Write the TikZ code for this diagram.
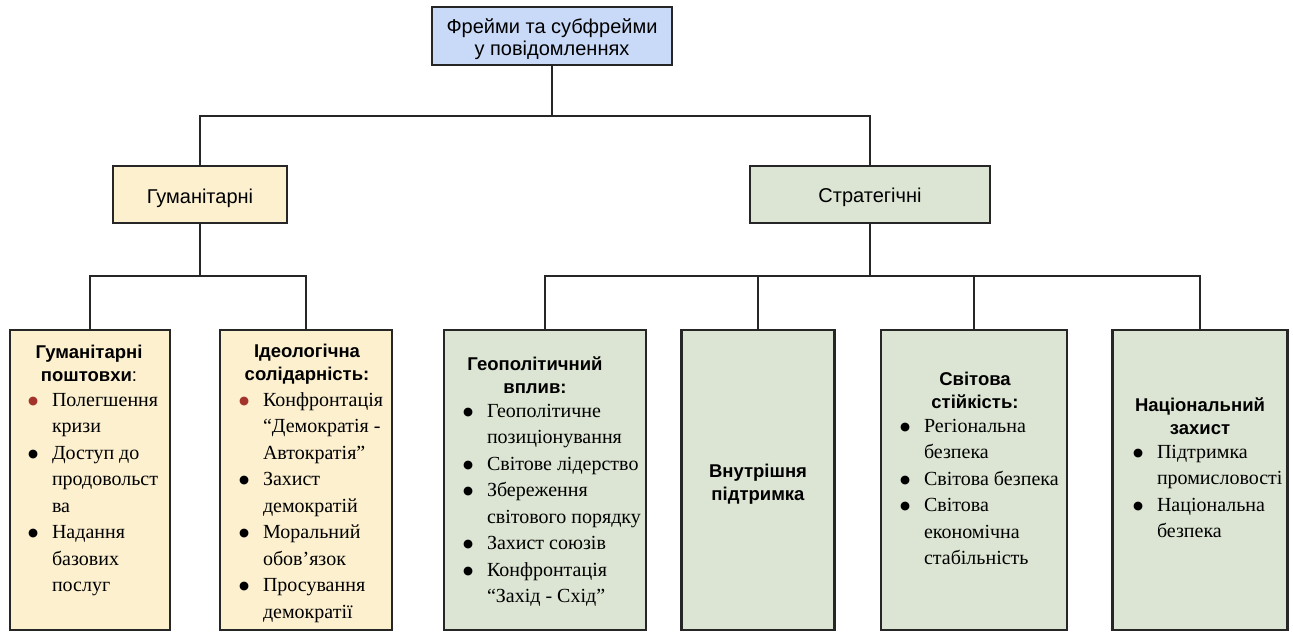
\documentclass[tikz,border=0pt]{standalone}
\usepackage{fontspec}
\setmainfont{Liberation Serif}
\setsansfont{Liberation Sans}
\newfontfamily\dejavu{DejaVu Sans}
\usepackage{array}
\definecolor{rootfill}{HTML}{C9DAF8}
\definecolor{yel}{HTML}{FCF0CF}
\definecolor{grn}{HTML}{DCE5D3}
\definecolor{edge}{HTML}{262626}
\definecolor{bred}{HTML}{A2342B}
\newcommand{\dotglyph}{\raisebox{1.6pt}{\dejavu\fontsize{11.5}{11.5}\selectfont ●}}
\newcommand{\bl}{\leavevmode\dotglyph}
\newcommand{\rb}{\leavevmode{\color{bred}\dotglyph}}
\newcommand{\blist}[1]{{\fontsize{20}{26.5}\selectfont\begin{tabular}[t]{@{}p{24pt}@{}l@{}}#1\end{tabular}}}
\newcommand{\ttl}[1]{{\sffamily\bfseries\fontsize{18.5}{23.5}\selectfont\begin{tabular}[t]{@{}c@{}}#1\end{tabular}}}
\newcommand{\reg}[1]{{\sffamily\fontsize{20}{22}\selectfont\begin{tabular}[t]{@{}c@{}}#1\end{tabular}}}
\tikzset{
  frame/.style={draw=edge,line width=2.6pt,inner sep=0pt},
  bigbox/.style={frame,minimum width=#1,minimum height=300},
  txt/.style={inner sep=0pt,outer sep=0pt,anchor=base},
  lst/.style={inner sep=0pt,outer sep=0pt,anchor=base west},
  conn/.style={draw=edge,line width=2.6pt}
}
\begin{document}
\begin{tikzpicture}[x=1pt,y=-1pt]
\useasboundingbox (0,0) rectangle (1293,632);
% top levels
\node[frame,fill=rootfill,minimum width=240,minimum height=58] (root) at (552,36) {};
\node[frame,fill=yel,minimum width=174,minimum height=57] (hum) at (200,194.5) {};
\node[frame,fill=grn,minimum width=240,minimum height=57] (str) at (870,194.5) {};
\node[txt] (rt) at (552,33) {\reg{Фрейми та субфрейми\\у повідомленнях}};
\node[txt] (ht) at (200,203) {\reg{Гуманітарні}};
\node[txt] (st) at (870,202) {\reg{Стратегічні}};
% bottom boxes
\node[bigbox=160,fill=yel] (b1) at (90,480) {};
\node[bigbox=172,fill=yel] (b2) at (306,480) {};
\node[bigbox=202,fill=grn] (b3) at (545,480) {};
\node[bigbox=153,fill=grn] (b4) at (758,480) {};
\node[bigbox=186,fill=grn] (b5) at (974,480) {};
\node[bigbox=175,fill=grn] (b6) at (1200,480) {};
% connectors
\coordinate (j1) at (552,116);
\coordinate (j2) at (200,276);
\coordinate (j3) at (870,276);
\draw[conn] (root.south) -- (j1);
\draw[conn] (hum.north) |- (j1) -| (str.north);
\draw[conn] (hum.south) -- (j2);
\draw[conn] (b1.north) |- (j2) -| (b2.north);
\draw[conn] (str.south) -- (j3);
\draw[conn] (b3.north) |- (j3) -| (b6.north);
\draw[conn] (b4.north) -- (b4.north |- j3);
\draw[conn] (b5.north) -- (b5.north |- j3);
% box 1
\node[txt] (t1) at (89,358) {\ttl{Гуманітарні\\поштовхи{\mdseries :}}};
\node[lst] (l1) at (28,406) {\blist{\rb & Полегшення\\ & кризи\\ \bl & Доступ до\\ & продовольст\\ & ва\\ \bl & Надання\\ & базових\\ & послуг}};
% box 2
\node[txt] (t2) at (307,357) {\ttl{Ідеологічна\\солідарність:}};
\node[lst] (l2) at (239,406) {\blist{\rb & Конфронтація\\ & “Демократія -\\ & Автократія”\\ \bl & Захист\\ & демократій\\ \bl & Моральний\\ & обов’язок\\ \bl & Просування\\ & демократії}};
% box 3
\node[txt] (t3) at (535,370) {\ttl{Геополітичний\\вплив:}};
\node[lst] (l3) at (463,417) {\blist{\bl & Геополітичне\\ & позиціонування\\ \bl & Світове лідерство\\ \bl & Збереження\\ & світового порядку\\ \bl & Захист союзів\\ \bl & Конфронтація\\ & “Захід - Схід”}};
% box 4
\node[txt] (t4) at (758,477) {\ttl{Внутрішня\\підтримка}};
% box 5
\node[txt] (t5) at (975,385) {\ttl{Світова\\стійкість:}};
\node[lst] (l5) at (900,432) {\blist{\bl & Регіональна\\ & безпека\\ \bl & Світова безпека\\ \bl & Світова\\ & економічна\\ & стабільність}};
% box 6
\node[txt] (t6) at (1200,411) {\ttl{Національний\\захист}};
\node[lst] (l6) at (1133,458) {\blist{\bl & Підтримка\\ & промисловості\\ \bl & Національна\\ & безпека}};
\end{tikzpicture}
\end{document}
